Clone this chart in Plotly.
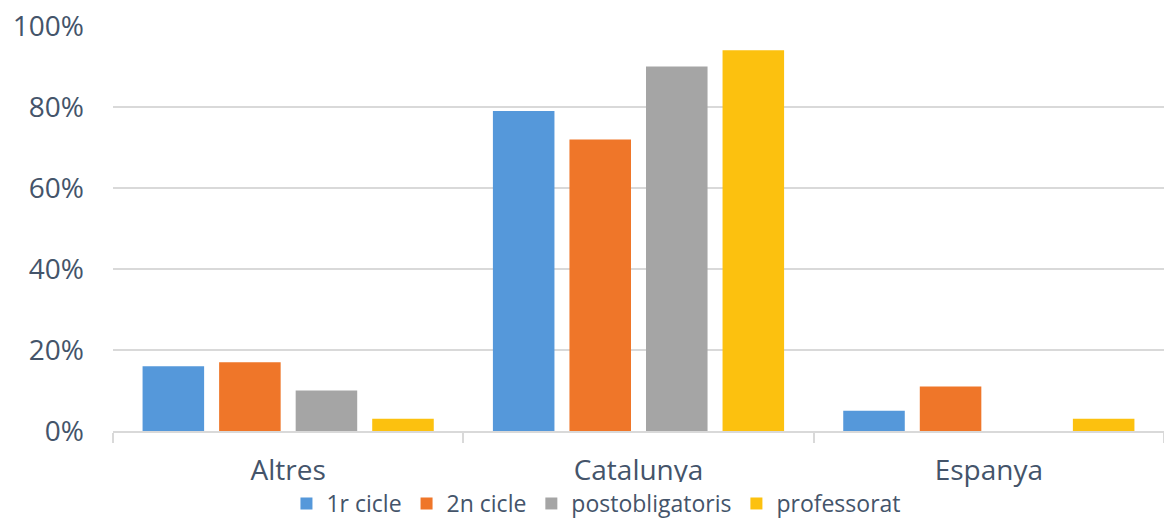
import plotly.graph_objects as go

categories = ["Altres", "Catalunya", "Espanya"]
series_names = ["1r cicle", "2n cicle", "postobligatoris", "professorat"]
v_1r = [16, 79, 5]
v_2n = [17, 72, 11]
v_post = [10, 90, 0]
v_prof = [3, 94, 3]
colors = ["#5598da", "#ef7629", "#a5a5a5", "#fcc10f"]
tick_vals = [0, 20, 40, 60, 80, 100]
tick_text = ["0%", "20%", "40%", "60%", "80%", "100%"]

fig = go.Figure()
for name, vals, c in zip(series_names, [v_1r, v_2n, v_post, v_prof], colors):
    fig.add_trace(go.Bar(x=categories, y=vals, name=name,
                         marker=dict(color=c, line=dict(width=0))))

font_family = "Open Sans, Noto Sans, sans-serif"
txt = "#44546a"
fig.update_layout(
    width=1164, height=525,
    margin=dict(l=113, r=0, t=26, b=94, autoexpand=False),
    paper_bgcolor="white", plot_bgcolor="white",
    barmode="group", bargap=0.126, bargroupgap=0.196,
    font=dict(family=font_family, color=txt),
    showlegend=True,
    legend=dict(orientation="h", x=0.46, xanchor="center",
                yref="container", y=-0.012, yanchor="bottom",
                font=dict(size=23, color=txt), itemwidth=30,
                traceorder="normal"),
    xaxis=dict(showline=True, linecolor="#d9d9d9", linewidth=2,
               ticks="outside", tickson="boundaries", ticklen=10, tickcolor="#d9d9d9",
               tickwidth=2, tickfont=dict(size=28, color=txt), ticklabelstandoff=13),
    yaxis=dict(range=[0, 100], tickvals=tick_vals, ticktext=tick_text,
               showgrid=True, gridcolor="#d9d9d9", gridwidth=1.5, zeroline=False,
               tickfont=dict(size=28, color=txt), ticks="", ticklabelstandoff=28),
)
fig.write_html("out.html")
